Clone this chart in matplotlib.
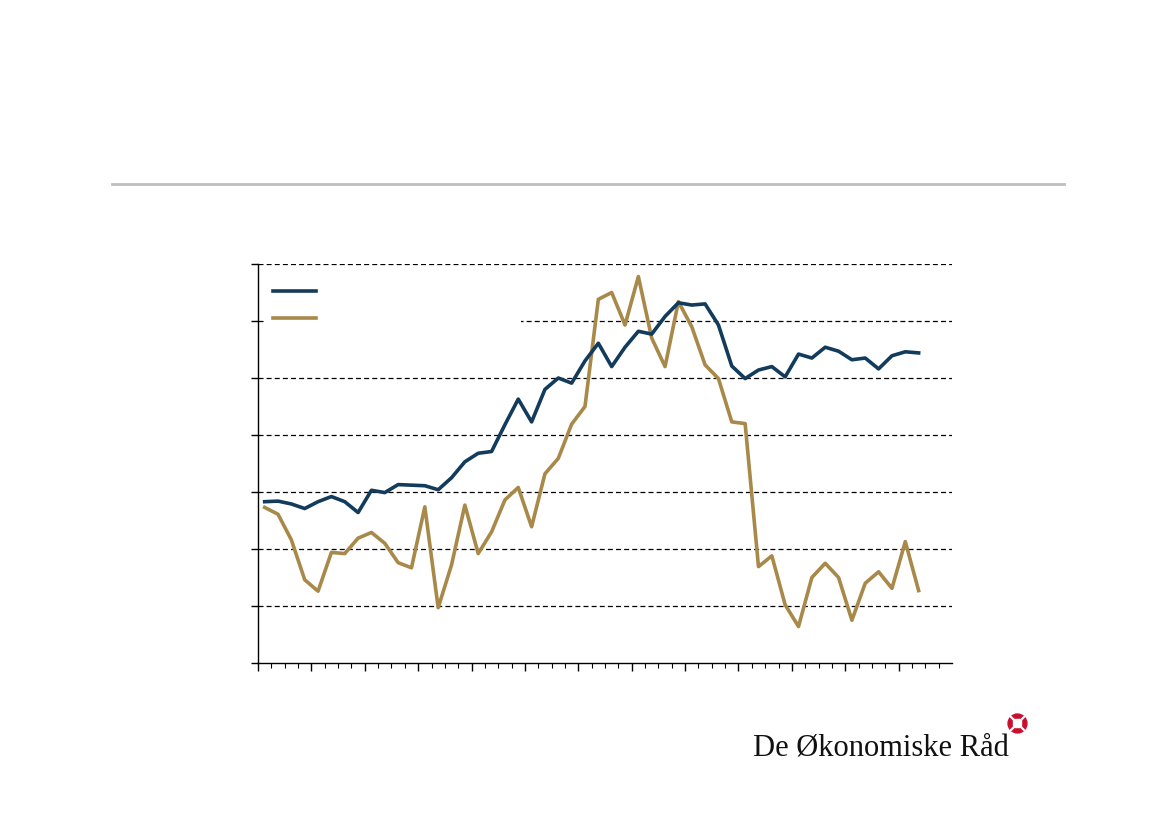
import matplotlib
matplotlib.use("Agg")
import matplotlib.pyplot as plt
import numpy as np
from matplotlib.patches import Rectangle, Circle, FancyBboxPatch
from matplotlib.lines import Line2D
from matplotlib.ticker import MultipleLocator, FixedLocator, NullFormatter

# ─── data (quarterly) ────────────────────────────────────────────────────────
quarter = np.arange(50) + 0.5

blue_series = [2.83, 2.84, 2.79, 2.71, 2.83, 2.92, 2.83, 2.64, 3.03, 2.99,
               3.13, 3.12, 3.11, 3.04, 3.25, 3.53, 3.68, 3.71, 4.18, 4.63,
               4.23, 4.80, 5.00, 4.91, 5.30, 5.61, 5.20, 5.54, 5.82, 5.77,
               6.08, 6.32, 6.28, 6.30, 5.93, 5.21, 4.99, 5.14, 5.20, 5.02,
               5.42, 5.35, 5.54, 5.47, 5.32, 5.35, 5.16, 5.39, 5.46, 5.44]

gold_series = [2.73, 2.61, 2.16, 1.46, 1.26, 1.94, 1.92, 2.19, 2.29, 2.10,
               1.76, 1.67, 2.74, 0.97, 1.72, 2.77, 1.92, 2.30, 2.86, 3.08,
               2.39, 3.32, 3.59, 4.19, 4.50, 6.38, 6.50, 5.93, 6.78, 5.70,
               5.20, 6.34, 5.90, 5.23, 4.99, 4.23, 4.20, 1.69, 1.88, 1.02,
               0.64, 1.50, 1.75, 1.50, 0.75, 1.40, 1.60, 1.31, 2.13, 1.27]

year_ticks = list(range(0, 52, 4))
quarter_ticks = [q for q in range(52) if q % 4]

BLUE = "#123b5c"
GOLD = "#a8894a"
LW = 2.6

fig = plt.figure(figsize=(11.69, 8.26), dpi=100)
ax = fig.add_axes([258 / 1169, 1 - 663 / 826, 694 / 1169, 399 / 826])

ax.set_xlim(0, 52)
ax.set_ylim(0, 7)
ax.yaxis.set_major_locator(MultipleLocator(1))
ax.xaxis.set_major_locator(FixedLocator(year_ticks))
ax.xaxis.set_minor_locator(FixedLocator(quarter_ticks))
ax.xaxis.set_major_formatter(NullFormatter())
ax.yaxis.set_major_formatter(NullFormatter())

for side in ("top", "right"):
    ax.spines[side].set_visible(False)
ax.spines["left"].set_linewidth(1.0)
ax.spines["bottom"].set_linewidth(1.0)
ax.tick_params(axis="y", direction="out", length=5, width=1.0)
ax.tick_params(axis="x", which="major", direction="out", length=6, width=1.0)
ax.tick_params(axis="x", which="minor", direction="out", length=3.5, width=0.8)

# dashed horizontal grid
for yv in range(1, 8):
    ax.axhline(yv, color="black", lw=0.9, ls=(0, (4, 2.5)), zorder=1)

# white legend box that hides part of the grid
ax.add_patch(Rectangle((0.009, 0.845), 0.37, 0.125, transform=ax.transAxes,
                       facecolor="white", edgecolor="none", zorder=2))

ax.plot(quarter, blue_series, color=BLUE, lw=LW, zorder=4)
ax.plot(quarter, gold_series, color=GOLD, lw=LW, zorder=3)

handles = [Line2D([], [], color=BLUE, lw=LW), Line2D([], [], color=GOLD, lw=LW)]
ax.legend(handles, ["", ""], loc="upper left", bbox_to_anchor=(0.006, 0.975),
          frameon=False, handlelength=3.1, labelspacing=0.95, borderpad=0.3)

# grey rule across the top
fig.add_artist(Line2D([112 / 1169, 1064 / 1169], [1 - 184 / 826] * 2,
                      color="#bfbfbf", lw=2.0))

# logo
fig.text(753 / 1169, 1 - 756 / 826, "De Økonomiske Råd", fontsize=22,
         family="Liberation Serif", color="#111111", ha="left", va="baseline")
logo_ax = fig.add_axes([1007 / 1169, 1 - 734 / 826, 21 / 1169, 21 / 826])
logo_ax.set_xlim(-1, 1)
logo_ax.set_ylim(-1, 1)
logo_ax.set_aspect("equal")
logo_ax.axis("off")
logo_ax.add_patch(Circle((0, 0), 0.9, color="#c8102e"))
logo_ax.add_patch(FancyBboxPatch((-0.38, -0.38), 0.76, 0.76,
                                 boxstyle="round,pad=0,rounding_size=0.15",
                                 color="white"))
for sx, sy in ((1, 1), (1, -1)):
    logo_ax.plot([-0.95 * sx, 0.95 * sx], [-0.95 * sy, 0.95 * sy],
                 color="white", lw=1.6)

fig.savefig("out.png", dpi=100)
